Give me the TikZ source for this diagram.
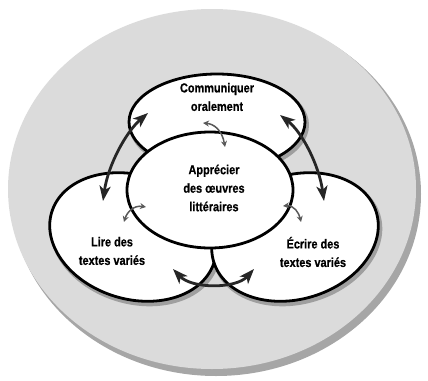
\documentclass[tikz,border=0pt]{standalone}
\usepackage{fontspec}
\usetikzlibrary{shapes.geometric,arrows.meta}
\newfontfamily\labfont{Liberation Sans}[FakeStretch=0.84,BoldFeatures={FakeBold=0.6}]
\begin{document}
\begin{tikzpicture}[x=1pt,y=-1pt,
  bubble/.style={ellipse,draw=black,fill=white,line width=2.8pt,inner sep=0pt},
  bubshadow/.style={ellipse,draw=gray!75,fill=gray!75,line width=4pt,inner sep=0pt},
  lab/.style={font=\labfont\bfseries\fontsize{13}{18.5}\selectfont,align=center,text=black},
  bigarrow/.style={line width=2.8pt,black!85,{Stealth[length=15pt,width=11pt,inset=4pt]}-{Stealth[length=15pt,width=11pt,inset=4pt]}},
  smallarrow/.style={line width=1.5pt,gray!70!black,{Stealth[length=6pt,width=6pt]}-{Stealth[length=6pt,width=6pt]}}
]
\useasboundingbox (0,0) rectangle (428,380);
% background disc
\node[ellipse,fill=gray!70,minimum width=410pt,minimum height=364pt,inner sep=0pt] (bgshadow) at (216,194) {};
\node[ellipse,fill=gray!28,minimum width=408pt,minimum height=360pt,inner sep=0pt] (bg) at (212,189) {};
% shadows
\node[bubshadow,rotate=-17,minimum width=170pt,minimum height=124pt] (lsh) at (135,240) {};
\node[bubshadow,rotate=17,minimum width=170pt,minimum height=124pt] (rsh) at (297,240) {};
\node[bubshadow,minimum width=176pt,minimum height=96pt] (tsh) at (219,125) {};
% ellipses
\node[bubble,rotate=-17,minimum width=170pt,minimum height=124pt] (left) at (133,237) {};
\node[bubble,rotate=17,minimum width=170pt,minimum height=124pt] (right) at (295,237) {};
\node[bubble,minimum width=176pt,minimum height=96pt] (top) at (217,122) {};
\node[bubble,minimum width=166pt,minimum height=116pt] (center) at (210,190) {};
% labels
\node[lab] (ltop) at (217,97) {Communiquer\\oralement};
\node[lab] (lcenter) at (214,188) {Apprécier\\des œuvres\\littéraires};
\node[lab] (lleft) at (112,251) {Lire des\\textes variés};
\node[lab] (lright) at (313,252) {Écrire des\\textes variés};
% big arrows
\coordinate (la) at (148,113);
\coordinate (lb) at (103,201);
\coordinate (ra) at (280,115);
\coordinate (rb) at (324,201);
\coordinate (ba) at (173,269);
\coordinate (bb) at (254,269);
\draw[bigarrow] (la) .. controls (126,132) and (108,165) .. (lb);
\draw[bigarrow] (ra) .. controls (302,132) and (319,165) .. (rb);
\draw[bigarrow] (ba) .. controls (192,289) and (236,289) .. (bb);
% small arrows
\coordinate (sta) at (203,123);
\coordinate (stb) at (225,147);
\coordinate (sla) at (146,207);
\coordinate (slb) at (124,222);
\coordinate (sra) at (283,206);
\coordinate (srb) at (301,222);
\draw[smallarrow] (sta) .. controls (214,124) and (222,130) .. (stb);
\draw[smallarrow] (sla) .. controls (134,205) and (127,212) .. (slb);
\draw[smallarrow] (sra) .. controls (294,205) and (299,213) .. (srb);
\end{tikzpicture}
\end{document}
